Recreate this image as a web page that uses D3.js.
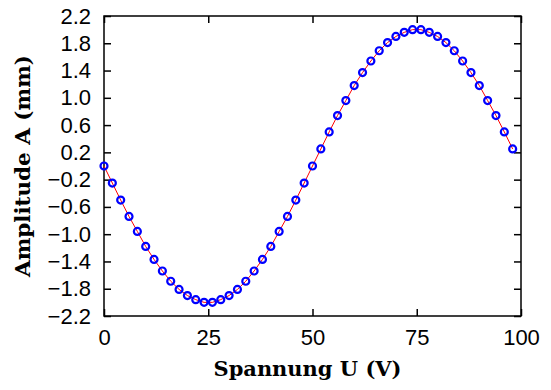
<!DOCTYPE html>
<html>
<head>
<meta charset="UTF-8">
<script src="https://d3js.org/d3.v7.min.js"></script>
<style>
  body { margin: 0; background: #fff; }
  svg { display: block; }
</style>
</head>
<body>
<div id="chart"></div>
<script>
const spannung = [0, 2, 4, 6, 8, 10, 12, 14, 16, 18, 20, 22, 24, 26, 28, 30, 32, 34, 36, 38,
  40, 42, 44, 46, 48, 50, 52, 54, 56, 58, 60, 62, 64, 66, 68, 70, 72, 74, 76, 78,
  80, 82, 84, 86, 88, 90, 92, 94, 96, 98];
const amplitude = [0.00, -0.25, -0.50, -0.74, -0.96, -1.18, -1.37, -1.54, -1.69, -1.81,
  -1.90, -1.96, -2.00, -2.00, -1.96, -1.90, -1.81, -1.69, -1.54, -1.37,
  -1.18, -0.96, -0.74, -0.50, -0.25, 0.00, 0.25, 0.50, 0.74, 0.96,
  1.18, 1.37, 1.54, 1.69, 1.81, 1.90, 1.96, 2.00, 2.00, 1.96,
  1.90, 1.81, 1.69, 1.54, 1.37, 1.18, 0.96, 0.74, 0.50, 0.25];
const xTicks = [0, 25, 50, 75, 100];
const yTicks = [-2.2, -1.8, -1.4, -1.0, -0.6, -0.2, 0.2, 0.6, 1.0, 1.4, 1.8, 2.2];

const W = 551, H = 390;
const margin = { top: 16, right: 30, bottom: 74, left: 104 };
const width = W - margin.left - margin.right;
const height = H - margin.top - margin.bottom;

const data = spannung.map((u, i) => ({ u: u, a: amplitude[i] }));

const svg = d3.select("#chart").append("svg")
  .attr("width", W).attr("height", H);
const g = svg.append("g")
  .attr("transform", `translate(${margin.left},${margin.top})`);

const x = d3.scaleLinear().domain([0, 100]).range([0, width]);
const y = d3.scaleLinear().domain([-2.2, 2.2]).range([height, 0]);

const fmt = d => d3.format(".1f")(d).replace("-", "\u2212");

// Achsen
const tickLen = 7;
g.append("g").attr("transform", `translate(0,${height})`)
  .call(d3.axisBottom(x).tickValues(xTicks).tickSizeInner(-tickLen).tickSizeOuter(0).tickPadding(13))
  .call(a => a.select(".domain").remove());
g.append("g")
  .call(d3.axisTop(x).tickValues(xTicks).tickSizeInner(-tickLen).tickSizeOuter(0).tickFormat(""))
  .call(a => a.select(".domain").remove());
g.append("g")
  .call(d3.axisLeft(y).tickValues(yTicks).tickSizeInner(-tickLen).tickSizeOuter(0).tickPadding(13).tickFormat(fmt))
  .call(a => a.select(".domain").remove());
g.append("g").attr("transform", `translate(${width},0)`)
  .call(d3.axisRight(y).tickValues(yTicks).tickSizeInner(-tickLen).tickSizeOuter(0).tickFormat(""))
  .call(a => a.select(".domain").remove());

g.selectAll(".tick line").attr("stroke", "#000").attr("stroke-width", 1.5);
g.selectAll(".tick text")
  .attr("font-family", "'Liberation Sans', Arial, sans-serif")
  .attr("font-size", 22)
  .attr("fill", "#000");

g.append("rect")
  .attr("width", width).attr("height", height)
  .attr("fill", "none").attr("stroke", "#000").attr("stroke-width", 1.5);

// Kurve
const line = d3.line().x(d => x(d.u)).y(d => y(d.a));
g.append("path").datum(data)
  .attr("fill", "none").attr("stroke", "red").attr("stroke-width", 1)
  .attr("d", line);

g.selectAll("circle").data(data).join("circle")
  .attr("cx", d => x(d.u)).attr("cy", d => y(d.a))
  .attr("r", 3.5)
  .attr("fill", "none").attr("stroke", "blue").attr("stroke-width", 2.2);

// Beschriftung
svg.append("text")
  .attr("x", margin.left + width / 2 - 5).attr("y", 376)
  .attr("text-anchor", "middle")
  .attr("font-family", "'DejaVu Serif', serif").attr("font-weight", "bold")
  .attr("font-size", 21)
  .attr("textLength", 188).attr("lengthAdjust", "spacingAndGlyphs")
  .text("Spannung U (V)");

svg.append("text")
  .attr("transform", `translate(30,${margin.top + height / 2}) rotate(-90)`)
  .attr("text-anchor", "middle")
  .attr("font-family", "'DejaVu Serif', serif").attr("font-weight", "bold")
  .attr("font-size", 21)
  .attr("textLength", 222).attr("lengthAdjust", "spacingAndGlyphs")
  .text("Amplitude A (mm)");
</script>
</body>
</html>
